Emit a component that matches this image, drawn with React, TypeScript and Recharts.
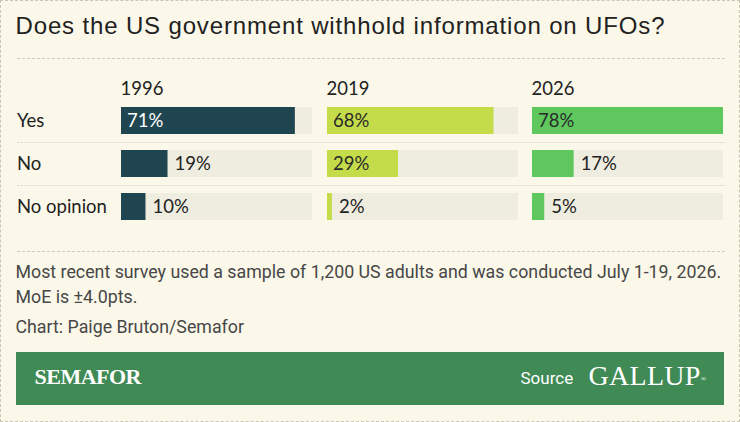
import React from 'react';
import { BarChart, Bar, XAxis, YAxis, LabelList } from 'recharts';

const answers = ['Yes', 'No', 'No opinion'];
const years = ['1996', '2019', '2026'];
const values1996 = [71, 19, 10];
const values2019 = [68, 29, 2];
const values2026 = [78, 17, 5];
const yearColors = ['#1f4551', '#c5dc4a', '#5ec85f'];
const labelColors = ['#ffffff', '#2a2a2a', '#2a2a2a'];

const MAX = 78;
const PANEL_W = 191;
const TOP = 99;
const PLOT_H = 129;

const BG = '#fbf8e9';
const TRACK = '#efede0';
const INK = '#222222';
const LATO = 'Lato, "Noto Sans", sans-serif';

const series = [values1996, values2019, values2026].map((vals) =>
  answers.map((label, i) => ({ label, value: vals[i] }))
);

// value label: inside the bar when it fits, otherwise just after it
const makeLabel = (insideColor: string) => (props: any) => {
  const { x, y, width, height, value } = props;
  const inside = value >= 25;
  return (
    <text
      x={inside ? x + 6 : x + width + 7}
      y={y + height / 2}
      dy="0.36em"
      fill={inside ? insideColor : INK}
      fontFamily={LATO}
      fontSize={18.5}
    >
      {value}%
    </text>
  );
};

const RowTick = (props: any) => {
  const { y, payload } = props;
  return (
    <text x={1} y={y} dy="0.36em" fill={INK} fontFamily={LATO} fontSize={18.5}>
      {payload.value}
    </text>
  );
};

const Panel = ({ idx, withAxis }: { idx: number; withAxis: boolean }) => {
  const axisW = withAxis ? 105 : 0;
  return (
    <BarChart
      width={PANEL_W + axisW}
      height={PLOT_H}
      data={series[idx]}
      layout="vertical"
      margin={{ top: 0, right: 0, bottom: 0, left: 0 }}
    >
      <XAxis type="number" domain={[0, MAX]} hide />
      <YAxis
        type="category"
        dataKey="label"
        width={axisW}
        hide={!withAxis}
        axisLine={false}
        tickLine={false}
        tick={<RowTick />}
      />
      <Bar
        dataKey="value"
        fill={yearColors[idx]}
        barSize={27}
        background={{ fill: TRACK }}
        isAnimationActive={false}
      >
        <LabelList dataKey="value" content={makeLabel(labelColors[idx])} />
      </Bar>
    </BarChart>
  );
};

const dashed = (top: number) => (
  <div
    style={{
      position: 'absolute',
      left: 16,
      top,
      width: 708,
      height: 0,
      borderTop: '1.5px dashed #cfccbd',
    }}
  />
);

const dotted = (top: number) => (
  <div
    style={{
      position: 'absolute',
      left: 16,
      top,
      width: 708,
      height: 0,
      borderTop: '1px dotted #d6d3c4',
    }}
  />
);

const panelLeft = [121, 327, 532];

export default function App() {
  return (
    <div
      style={{
        position: 'fixed',
        left: 0,
        top: 0,
        width: 740,
        height: 422,
        background: BG,
        boxSizing: 'border-box',
        border: '1.5px dashed #c9c6b6',
        overflow: 'hidden',
      }}
    >
      <div
        style={{
          position: 'absolute',
          left: 14.5,
          top: 11,
          fontFamily: '"Liberation Sans", Arial, sans-serif',
          fontSize: 24,
          letterSpacing: 0.85,
          color: INK,
          whiteSpace: 'nowrap',
        }}
      >
        Does the US government withhold information on UFOs?
      </div>
      {dashed(57)}

      {years.map((yr, i) => (
        <div
          key={yr}
          style={{
            position: 'absolute',
            left: panelLeft[i] - 1.5,
            top: 76,
            fontFamily: LATO,
            fontSize: 18.5,
            color: INK,
            lineHeight: '22px',
          }}
        >
          {yr}
        </div>
      ))}

      {dotted(141)}
      {dotted(184)}

      <div style={{ position: 'absolute', left: 14.5, top: TOP - 1.5 }}>
        <Panel idx={0} withAxis />
      </div>
      <div style={{ position: 'absolute', left: panelLeft[1] - 1.5, top: TOP - 1.5 }}>
        <Panel idx={1} withAxis={false} />
      </div>
      <div style={{ position: 'absolute', left: panelLeft[2] - 1.5, top: TOP - 1.5 }}>
        <Panel idx={2} withAxis={false} />
      </div>

      {dashed(250)}

      <div
        style={{
          position: 'absolute',
          left: 14.5,
          top: 258,
          width: 715,
          fontFamily: 'Roboto, "Noto Sans", sans-serif',
          fontSize: 17.8,
          lineHeight: '25px',
          color: '#474747',
        }}
      >
        <div style={{ whiteSpace: 'nowrap' }}>
          Most recent survey used a sample of 1,200 US adults and was conducted July 1-19, 2026.
        </div>
        <div>MoE is ±4.0pts.</div>
        <div style={{ marginTop: 5 }}>Chart: Paige Bruton/Semafor</div>
      </div>

      <div
        style={{
          position: 'absolute',
          left: 14.5,
          top: 350.5,
          width: 708,
          height: 53,
          background: '#408a55',
        }}
      >
        <div
          style={{
            position: 'absolute',
            left: 19,
            top: 13,
            fontFamily: '"Liberation Serif", serif',
            fontWeight: 'bold',
            fontSize: 22,
            color: '#ffffff',
            letterSpacing: -0.5,
            lineHeight: '24px',
          }}
        >
          SEMAFOR
        </div>
        <div
          style={{
            position: 'absolute',
            left: 505,
            top: 15,
            fontFamily: 'Roboto, sans-serif',
            fontSize: 17,
            color: '#ffffff',
            lineHeight: '22px',
          }}
        >
          Source
        </div>
        <div
          style={{
            position: 'absolute',
            left: 573,
            top: 9,
            fontFamily: '"Liberation Serif", serif',
            fontSize: 28,
            color: '#ffffff',
            lineHeight: '30px',
            letterSpacing: 0.3,
          }}
        >
          GALLUP<span style={{ fontSize: 7, verticalAlign: 'top', position: 'relative', top: 3 }}>®</span>
        </div>
      </div>
    </div>
  );
}
